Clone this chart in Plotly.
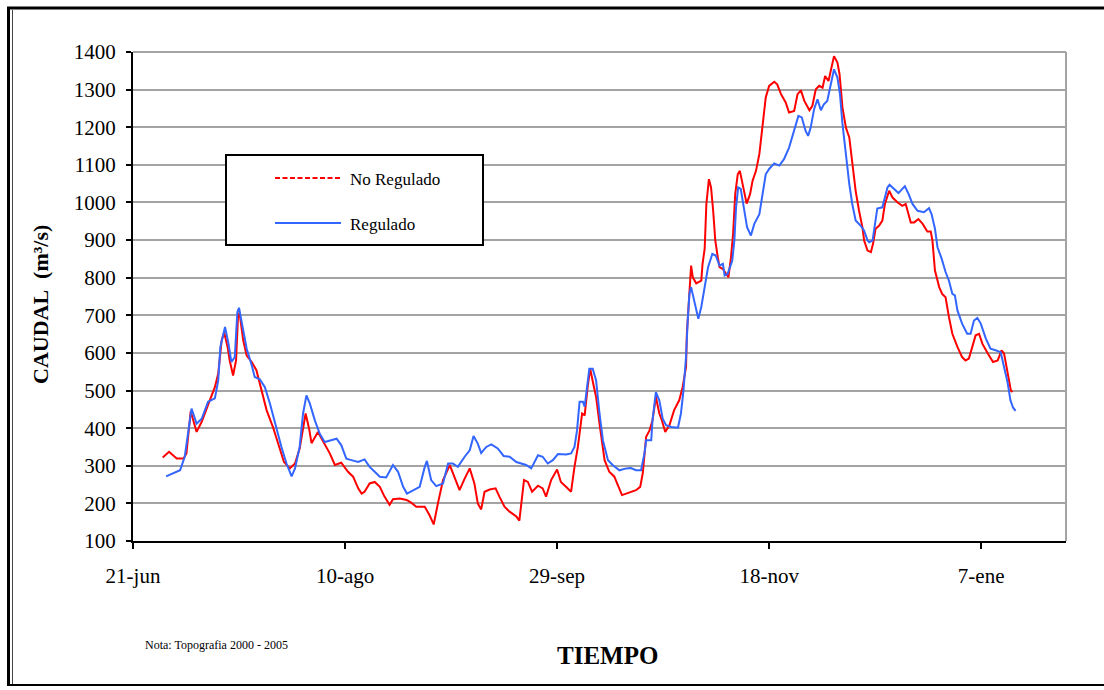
import plotly.graph_objects as go

# ---------------- data (days after 21-jun, caudal m3/s) ----------------
red_days = [7.0, 8.5, 10.3, 11.9, 12.6, 13.6, 15.0, 16.2, 18.1, 19.3, 20.1, 20.9, 21.5, 22.3, 22.8,
            23.6, 24.3, 24.8, 25.2, 26.0, 26.8, 28.0, 29.1, 30.3, 31.5, 33.0, 34.2, 35.6, 37.0, 38.2,
            39.3, 40.1, 40.7, 41.5, 42.1, 43.6, 45.2, 46.4, 47.6, 49.1, 50.7, 51.9, 53.1, 53.9, 54.6,
            55.8, 57.0, 58.2, 59.3, 60.5, 61.3, 62.9, 64.5, 65.6, 66.8, 68.8, 69.9, 70.9, 71.9, 73.1,
            74.7, 75.8, 77.0, 78.2, 79.4, 80.5, 81.3, 82.1, 82.9, 84.1, 85.5, 86.4, 87.6, 88.8, 90.4,
            91.1, 91.5, 92.2, 93.1, 94.1, 95.5, 96.6, 97.4, 98.6, 100.0, 100.9, 102.1, 103.3, 104.1,
            104.9, 105.9, 106.5, 107.2, 107.8, 108.6, 109.2, 110.0, 111.2, 112.3, 113.5, 114.3, 115.3,
            116.3, 117.4, 118.6, 119.6, 120.2, 121.0, 121.8, 122.5, 123.3, 124.1, 124.7, 125.5, 126.5,
            127.6, 128.8, 129.6, 130.4, 130.6, 130.9, 131.2, 131.6, 132.0, 132.8, 134.0, 134.3, 134.8,
            135.2, 135.8, 136.3, 136.8, 137.3, 137.9, 138.3, 139.1, 139.9, 140.4, 141.0, 141.5, 142.0,
            142.6, 143.1, 143.6, 144.2, 144.7, 145.5, 146.1, 146.9, 147.7, 148.4, 149.2, 150.0, 151.2,
            151.9, 152.8, 153.9, 154.7, 155.9, 156.7, 157.5, 158.3, 159.5, 160.2, 161.0, 161.8, 162.6,
            163.2, 164.0, 164.9, 165.3, 166.1, 166.6, 167.3, 168.1, 168.9, 169.6, 170.4, 171.2, 172.0,
            172.4, 173.2, 174.0, 174.5, 175.1, 175.9, 176.7, 177.3, 178.3, 179.1, 180.3, 181.4, 182.2,
            182.8, 183.4, 184.2, 185.2, 186.2, 187.3, 188.1, 188.5, 189.1, 190.1, 190.8, 191.6, 192.4,
            193.2, 194.4, 195.5, 196.3, 197.1, 197.9, 198.7, 199.5, 200.3, 201.6, 202.8, 203.9, 204.8,
            205.4, 206.2, 207.0, 207.4]
red_vals = [322, 337, 319, 319, 333, 445, 390, 417, 474, 509, 545, 633, 655, 616, 580,
            540, 580, 706, 700, 633, 593, 576, 554, 500, 448, 403, 359, 310, 293, 306,
            346, 395, 439, 400, 360, 390, 359, 333, 302, 308, 284, 271, 240, 226, 231,
            253, 257, 244, 218, 196, 211, 213, 209, 202, 191, 191, 169, 144, 200, 262,
            302, 271, 235, 266, 293, 253, 200, 184, 231, 237, 240, 218, 191, 178, 165,
            154, 191, 262, 257, 231, 247, 240, 218, 262, 290, 257, 244, 231, 297,
            350, 439, 434, 509, 558, 514, 483, 412, 315, 284, 271, 249, 222,
            226, 231, 235, 244, 280, 377, 394, 421, 483, 439, 421, 390, 408,
            448, 474, 509, 562, 651, 713, 784, 832, 801, 785, 792, 837, 877,
            996, 1062, 1040, 978, 899, 854, 828, 823, 810, 801, 854, 916, 1022,
            1075, 1084, 1058, 1022, 997, 1022, 1058, 1084, 1129, 1199, 1279, 1310, 1321,
            1314, 1288, 1266, 1239, 1243, 1288, 1298, 1270, 1245, 1257, 1301, 1310, 1305,
            1336, 1323, 1376, 1389, 1372, 1341, 1252, 1199, 1173, 1111, 1031, 978, 934,
            899, 872, 868, 890, 930, 938, 952, 996, 1031, 1013, 1000, 991, 996,
            974, 947, 947, 956, 943, 923, 923, 899, 819, 775, 757, 748, 695,
            651, 616, 589, 580, 585, 616, 647, 651, 624, 598, 576, 580, 607,
            598, 545, 500, 496]

blue_days = [7.8, 9.5, 11.1, 12.2, 13.3, 13.8, 15.0, 16.2, 17.7, 19.3, 20.1, 20.6, 21.7, 22.5, 23.2,
             24.0, 24.6, 25.0, 26.0, 26.8, 28.0, 28.7, 29.9, 31.1, 32.3, 33.8, 35.0, 36.2, 37.4, 38.2,
             39.3, 40.1, 40.9, 41.7, 42.9, 44.0, 45.2, 46.7, 48.0, 49.1, 50.3, 51.5, 53.1, 54.6, 55.8,
             57.0, 58.2, 59.7, 61.3, 62.5, 63.7, 64.6, 66.0, 67.6, 68.8, 69.3, 70.3, 71.5, 73.1, 74.3,
             75.4, 76.6, 78.2, 79.4, 80.3, 81.3, 82.1, 83.3, 84.5, 86.0, 87.4, 88.8, 90.4, 92.7, 93.9,
             95.5, 96.6, 97.8, 99.0, 100.2, 102.1, 103.3, 104.1, 104.7, 105.3, 106.1, 106.5, 107.0,
             107.6, 108.4, 109.2, 110.0, 110.8, 112.0, 113.1, 114.7, 116.3, 117.4, 118.6, 119.8, 120.6,
             121.0, 122.2, 122.5, 123.3, 124.1, 124.9, 125.7, 126.9, 128.5, 129.2, 129.8, 130.4, 130.8,
             131.2, 131.6, 132.4, 133.3, 134.0, 134.8, 135.6, 136.6, 137.4, 138.3, 139.1, 139.5, 140.2,
             141.3, 141.8, 142.2, 142.7, 143.3, 144.1, 144.8, 145.7, 146.5, 147.7, 148.4, 149.2, 150.0,
             151.2, 152.4, 153.5, 154.7, 155.9, 156.9, 157.7, 158.6, 159.2, 159.8, 160.6, 161.4, 162.2,
             162.9, 163.7, 164.5, 165.3, 166.1, 166.7, 167.3, 168.1, 168.9, 169.6, 170.4, 171.6, 172.4,
             173.2, 173.6, 174.4, 174.8, 175.2, 175.5, 176.7, 177.3, 177.9, 178.4, 179.5, 180.5, 181.4,
             182.0, 182.9, 183.8, 185.0, 186.5, 187.7, 188.3, 189.1, 189.7, 190.7, 191.6, 192.4, 193.2,
             193.8, 194.4, 195.5, 196.7, 197.5, 198.3, 199.1, 199.9, 201.1, 202.2, 203.4, 204.6, 205.4,
             206.2, 206.9, 207.5, 208.1]
blue_vals = [272, 281, 288, 324, 412, 452, 412, 425, 470, 479, 527, 616, 669, 625, 576,
             589, 708, 720, 660, 611, 567, 536, 530, 509, 465, 399, 350, 306, 272, 293,
             350, 439, 487, 465, 420, 386, 363, 368, 372, 355, 319, 315, 310, 317, 297,
             284, 271, 269, 302, 284, 244, 226, 235, 244, 297, 313, 262, 246, 253, 306,
             306, 297, 324, 341, 379, 359, 334, 350, 357, 346, 326, 324, 310, 302, 293,
             328, 324, 306, 315, 331, 330, 333, 350, 394, 470, 470, 457, 500,
             558, 558, 527, 439, 368, 315, 302, 288, 293, 294, 288, 288, 333,
             368, 368, 421, 496, 474, 425, 408, 403, 401, 439, 500, 589, 686,
             757, 775, 739, 691, 722, 775, 828, 863, 859, 832, 837, 806, 810,
             845, 899, 987, 1040, 1036, 987, 934, 912, 943, 969, 1022, 1075, 1089,
             1104, 1098, 1115, 1146, 1190, 1230, 1226, 1190, 1177, 1199, 1248, 1274, 1245,
             1261, 1270, 1314, 1354, 1332, 1288, 1208, 1120, 1049, 996, 952, 938, 925,
             899, 894, 899, 934, 969, 984, 987, 1013, 1040, 1047, 1036, 1025, 1036,
             1043, 1022, 996, 978, 974, 985, 969, 930, 881, 850, 815, 792, 757,
             753, 713, 678, 651, 651, 686, 693, 678, 638, 611, 607, 602, 562,
             523, 474, 455, 446]

tick_days = [0, 50, 100, 150, 200]
tick_labels = ["21-jun", "10-ago", "29-sep", "18-nov", "7-ene"]
series_names = ["No Regulado", "Regulado"]

# ---------------- layout helpers (pixel -> paper) ----------------
W, H = 1104, 690
L, R, T, B = 133, 1066, 52, 541


def px(x):
    return (x - L) / (R - L)


def py(y):
    return (B - y) / (B - T)


FONT = "Liberation Serif, Times New Roman, serif"

fig = go.Figure()
fig.add_trace(go.Scatter(x=red_days, y=red_vals, mode="lines", name=series_names[0],
                         line=dict(color="#FF0000", width=2), showlegend=False))
fig.add_trace(go.Scatter(x=blue_days, y=blue_vals, mode="lines", name=series_names[1],
                         line=dict(color="#3366FF", width=2), showlegend=False))

fig.update_layout(
    width=W, height=H,
    margin=dict(l=L, r=W - R, t=T, b=H - B),
    paper_bgcolor="white", plot_bgcolor="white",
    font=dict(family=FONT, color="black", size=21),
    xaxis=dict(range=[0, 220], tickvals=tick_days, ticktext=tick_labels,
               showgrid=False, zeroline=False, showline=True, linecolor="black", linewidth=2,
               ticks="outside", ticklen=6, tickwidth=1.5, tickcolor="black",
               tickfont=dict(size=21, family=FONT), ticklabelstandoff=9),
    yaxis=dict(range=[100, 1400], dtick=100, tick0=100,
               showgrid=True, gridcolor="#a3a3a3", gridwidth=2, zeroline=False,
               showline=True, linecolor="black", linewidth=2,
               ticks="outside", ticklen=5, tickwidth=1.5, tickcolor="black",
               tickfont=dict(size=21, family=FONT), ticklabelstandoff=6),
)

shapes = []
# plot-area gray border (top, right)
shapes.append(dict(type="line", xref="paper", yref="paper", x0=0, x1=1, y0=1, y1=1,
                   line=dict(color="#a3a3a3", width=2), layer="below"))
shapes.append(dict(type="line", xref="paper", yref="paper", x0=1, x1=1, y0=0, y1=1,
                   line=dict(color="#a3a3a3", width=2), layer="below"))
# outer frame
shapes.append(dict(type="line", xref="paper", yref="paper", x0=px(7), x1=px(1104), y0=py(8), y1=py(8),
                   line=dict(color="black", width=3)))
shapes.append(dict(type="line", xref="paper", yref="paper", x0=px(8.5), x1=px(8.5), y0=py(7), y1=py(686),
                   line=dict(color="black", width=3)))
shapes.append(dict(type="line", xref="paper", yref="paper", x0=px(12.5), x1=px(12.5), y0=py(10), y1=py(684),
                   line=dict(color="#444444", width=1)))
shapes.append(dict(type="line", xref="paper", yref="paper", x0=px(7), x1=px(1104), y0=py(685), y1=py(685),
                   line=dict(color="black", width=2)))
# legend box
shapes.append(dict(type="rect", xref="paper", yref="paper", x0=px(226), x1=px(483), y0=py(155), y1=py(245),
                   line=dict(color="black", width=2), fillcolor="white"))
shapes.append(dict(type="line", xref="paper", yref="paper", x0=px(275), x1=px(341), y0=py(178), y1=py(178),
                   line=dict(color="#FF0000", width=2, dash="5px,2.5px")))
shapes.append(dict(type="line", xref="paper", yref="paper", x0=px(275), x1=px(341), y0=py(223), y1=py(223),
                   line=dict(color="#3366FF", width=2)))
fig.update_layout(shapes=shapes)

annotations = [
    dict(text=series_names[0], x=px(348), y=py(179), xanchor="left", yanchor="middle",
         font=dict(size=17, family=FONT)),
    dict(text=series_names[1], x=px(348), y=py(224), xanchor="left", yanchor="middle",
         font=dict(size=17, family=FONT)),
    dict(text="<b>CAUDAL&nbsp; (m³/s)</b>", x=px(40), y=py(305), textangle=-90,
         xanchor="center", yanchor="middle", font=dict(size=22, family=FONT)),
    dict(text="<b>TIEMPO</b>", x=px(607), y=py(655), xanchor="center", yanchor="middle",
         font=dict(size=25, family=FONT)),
    dict(text="Nota: Topografia 2000 - 2005", x=px(143), y=py(645), xanchor="left", yanchor="middle",
         font=dict(size=12, family=FONT)),
]
for a in annotations:
    a.update(xref="paper", yref="paper", showarrow=False)
fig.update_layout(annotations=annotations)

fig.write_html("out.html")
